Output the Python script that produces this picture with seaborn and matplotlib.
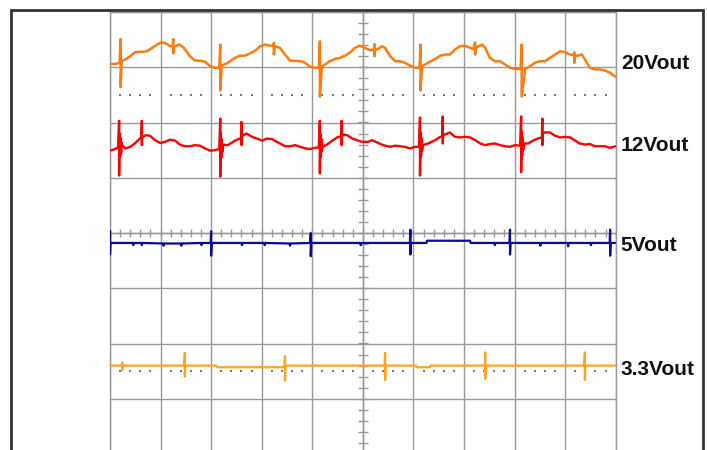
import numpy as np
import pandas as pd
import matplotlib
matplotlib.use("Agg")
import matplotlib.pyplot as plt
from matplotlib.patches import Rectangle
import seaborn as sns

# ---- data: time (divisions) , screen level (divisions) ----
ch_names = ["20Vout", "12Vout", "5Vout", "3.3Vout"]
ch_colors = ["#FF7B0F", "#FF0000", "#0A0A96", "#FFA31A"]

trace_20v = [
    (0.00, 3.06), (0.10, 3.06), (0.19, 3.08), (0.21, 3.51), (0.21, 2.64), (0.23, 3.11),
    (0.30, 3.14), (0.40, 3.20), (0.49, 3.27), (0.59, 3.28), (0.69, 3.28), (0.75, 3.30),
    (0.83, 3.35), (0.95, 3.42), (1.01, 3.45), (1.09, 3.44), (1.19, 3.38), (1.24, 3.39),
    (1.25, 3.51), (1.25, 3.25), (1.26, 3.38), (1.31, 3.39), (1.38, 3.41), (1.46, 3.35),
    (1.58, 3.20), (1.68, 3.12), (1.78, 3.12), (1.88, 3.10), (1.98, 3.02), (2.08, 2.99),
    (2.16, 2.99), (2.18, 3.41), (2.18, 2.58), (2.21, 3.03), (2.33, 3.08), (2.47, 3.17),
    (2.57, 3.21), (2.67, 3.21), (2.77, 3.25), (2.87, 3.30), (2.97, 3.38), (3.07, 3.41),
    (3.16, 3.39), (3.23, 3.39), (3.24, 3.44), (3.24, 3.23), (3.26, 3.38), (3.36, 3.35),
    (3.46, 3.23), (3.56, 3.12), (3.76, 3.11), (3.86, 3.08), (3.95, 3.01), (4.05, 2.99),
    (4.13, 2.99), (4.15, 3.47), (4.15, 2.47), (4.19, 3.01), (4.25, 3.05), (4.35, 3.11),
    (4.45, 3.15), (4.55, 3.17), (4.65, 3.21), (4.75, 3.27), (4.84, 3.35), (4.94, 3.39),
    (5.04, 3.35), (5.14, 3.31), (5.22, 3.32), (5.23, 3.42), (5.23, 3.20), (5.24, 3.32),
    (5.30, 3.33), (5.38, 3.38), (5.44, 3.35), (5.54, 3.20), (5.64, 3.11), (5.73, 3.11),
    (5.83, 3.08), (5.93, 3.03), (6.03, 2.99), (6.12, 2.99), (6.14, 3.41), (6.14, 2.58),
    (6.17, 3.02), (6.29, 3.08), (6.43, 3.15), (6.53, 3.21), (6.62, 3.23), (6.72, 3.23),
    (6.82, 3.32), (6.92, 3.38), (7.02, 3.39), (7.12, 3.35), (7.18, 3.33), (7.22, 3.45),
    (7.22, 3.23), (7.23, 3.34), (7.28, 3.38), (7.36, 3.41), (7.42, 3.35), (7.51, 3.17),
    (7.61, 3.11), (7.71, 3.11), (7.81, 3.05), (7.91, 2.99), (8.01, 2.97), (8.12, 2.97),
    (8.14, 3.41), (8.14, 2.47), (8.21, 2.97), (8.31, 3.02), (8.40, 3.08), (8.50, 3.11),
    (8.60, 3.11), (8.70, 3.17), (8.80, 3.23), (8.90, 3.29), (9.00, 3.27), (9.10, 3.23),
    (9.17, 3.22), (9.18, 3.27), (9.18, 3.08), (9.19, 3.21), (9.25, 3.21), (9.33, 3.23),
    (9.39, 3.14), (9.49, 2.99), (9.59, 2.96), (9.69, 2.96), (9.79, 2.94), (9.89, 2.90),
    (9.99, 2.83),
]

trace_12v = [
    (0.00, 1.49), (0.10, 1.52), (0.16, 1.55), (0.18, 2.03), (0.18, 1.04), (0.19, 1.80),
    (0.20, 1.38), (0.21, 1.72), (0.22, 1.44), (0.23, 1.64), (0.24, 1.59), (0.30, 1.53),
    (0.40, 1.56), (0.49, 1.62), (0.59, 1.71), (0.62, 1.72), (0.63, 2.03), (0.63, 1.59),
    (0.64, 1.76), (0.65, 1.74), (0.71, 1.77), (0.79, 1.76), (0.89, 1.68), (0.99, 1.63),
    (1.09, 1.65), (1.19, 1.69), (1.29, 1.67), (1.38, 1.60), (1.48, 1.57), (1.58, 1.57),
    (1.68, 1.59), (1.78, 1.58), (1.88, 1.53), (1.98, 1.49), (2.08, 1.50), (2.16, 1.52),
    (2.18, 2.07), (2.18, 1.02), (2.19, 1.82), (2.20, 1.36), (2.21, 1.70), (2.22, 1.46),
    (2.23, 1.60), (2.33, 1.59), (2.47, 1.67), (2.57, 1.71), (2.59, 1.72), (2.60, 2.01),
    (2.60, 1.59), (2.61, 1.76), (2.62, 1.76), (2.70, 1.80), (2.81, 1.74), (2.93, 1.70),
    (3.01, 1.67), (3.10, 1.71), (3.20, 1.70), (3.26, 1.67), (3.36, 1.62), (3.46, 1.57),
    (3.56, 1.57), (3.66, 1.59), (3.76, 1.56), (3.86, 1.53), (3.95, 1.52), (4.05, 1.54),
    (4.13, 1.55), (4.15, 2.03), (4.15, 1.08), (4.16, 1.80), (4.17, 1.38), (4.18, 1.70),
    (4.19, 1.48), (4.20, 1.56), (4.29, 1.60), (4.41, 1.68), (4.51, 1.74), (4.57, 1.74),
    (4.58, 2.03), (4.58, 1.59), (4.59, 1.77), (4.61, 1.78), (4.69, 1.77), (4.79, 1.71),
    (4.88, 1.68), (4.98, 1.65), (5.10, 1.65), (5.18, 1.68), (5.28, 1.64), (5.40, 1.59),
    (5.54, 1.56), (5.64, 1.58), (5.73, 1.57), (5.83, 1.56), (5.93, 1.53), (6.03, 1.56),
    (6.11, 1.56), (6.13, 2.09), (6.13, 1.04), (6.14, 1.82), (6.15, 1.38), (6.16, 1.72),
    (6.17, 1.48), (6.19, 1.59), (6.29, 1.62), (6.43, 1.68), (6.53, 1.74), (6.57, 1.75),
    (6.58, 2.11), (6.58, 1.62), (6.59, 1.78), (6.62, 1.78), (6.72, 1.82), (6.82, 1.74),
    (6.92, 1.73), (7.02, 1.74), (7.12, 1.73), (7.22, 1.68), (7.32, 1.62), (7.42, 1.59),
    (7.51, 1.61), (7.61, 1.62), (7.71, 1.59), (7.81, 1.57), (7.91, 1.56), (8.01, 1.59),
    (8.11, 1.58), (8.13, 2.11), (8.13, 1.10), (8.14, 1.84), (8.15, 1.40), (8.16, 1.74),
    (8.17, 1.50), (8.19, 1.62), (8.27, 1.62), (8.36, 1.67), (8.46, 1.71), (8.54, 1.73),
    (8.55, 2.07), (8.55, 1.59), (8.56, 1.80), (8.60, 1.82), (8.70, 1.82), (8.80, 1.76),
    (8.90, 1.73), (9.00, 1.74), (9.10, 1.73), (9.20, 1.67), (9.29, 1.62), (9.39, 1.60),
    (9.49, 1.61), (9.59, 1.57), (9.69, 1.57), (9.79, 1.57), (9.89, 1.54), (9.99, 1.57),
]

trace_5v = [
    (0.00, -0.18), (0.00, 0.03), (0.00, -0.39), (0.01, -0.18), (0.45, -0.18), (0.46, -0.22),
    (0.47, -0.18), (0.62, -0.18), (0.63, -0.22), (0.64, -0.18), (1.05, -0.19), (1.06, -0.23),
    (1.07, -0.19), (1.40, -0.19), (1.41, -0.23), (1.42, -0.19), (1.80, -0.18), (1.81, -0.22),
    (1.82, -0.18), (1.99, -0.18), (2.00, 0.03), (2.00, -0.41), (2.01, -0.18), (2.60, -0.18),
    (2.61, -0.22), (2.62, -0.18), (3.05, -0.18), (3.06, -0.22), (3.07, -0.18), (3.55, -0.19),
    (3.56, -0.23), (3.57, -0.19), (3.96, -0.18), (3.97, 0.00), (3.97, -0.42), (3.98, -0.18),
    (4.95, -0.18), (4.96, -0.22), (4.97, -0.18), (5.93, -0.18), (5.94, 0.06), (5.94, -0.39),
    (5.95, -0.18), (6.26, -0.18), (6.27, -0.14), (7.12, -0.14), (7.13, -0.18), (7.60, -0.18),
    (7.61, -0.22), (7.62, -0.18), (7.90, -0.18), (7.91, 0.06), (7.91, -0.39), (7.92, -0.18),
    (8.50, -0.18), (8.51, -0.23), (8.52, -0.18), (9.05, -0.18), (9.06, -0.24), (9.07, -0.18),
    (9.50, -0.18), (9.51, -0.22), (9.52, -0.18), (9.88, -0.18), (9.89, 0.06), (9.89, -0.41),
    (9.90, -0.18), (9.99, -0.18),
]

trace_3v3 = [
    (0.00, -2.40), (0.23, -2.40), (0.24, -2.34), (0.24, -2.49), (0.25, -2.40), (1.47, -2.40),
    (1.48, -2.17), (1.48, -2.60), (1.49, -2.40), (2.10, -2.40), (2.12, -2.43), (3.42, -2.43),
    (3.45, -2.41), (3.46, -2.23), (3.46, -2.67), (3.47, -2.40), (5.43, -2.40), (5.44, -2.17),
    (5.44, -2.66), (5.45, -2.40), (6.05, -2.40), (6.06, -2.43), (6.33, -2.43), (6.34, -2.40),
    (7.41, -2.40), (7.42, -2.16), (7.42, -2.64), (7.43, -2.40), (9.38, -2.40), (9.39, -2.16),
    (9.39, -2.66), (9.40, -2.40), (9.99, -2.40),
]

label_levels = [2.96, 1.48, -0.33, -2.57]   # baseline of each channel label
ref_levels = [2.5, -2.5]                    # dotted reference rows

# ---- figure ----
sns.set_style("white")
fig = plt.figure(figsize=(7.07, 4.5), dpi=100)
fig.patch.set_facecolor("white")
W, H = 707.0, 450.0
ax = fig.add_axes([110 / W, 1 - 454 / H, 505.7 / W, 442 / H])

grid_c = "#999999"
ax.set_xlim(0, 10)
ax.set_ylim(-4, 4)
ax.set_xticks(range(0, 11))
ax.set_yticks(range(-4, 5))
ax.grid(True, color=grid_c, lw=1.0, zorder=0)
ax.set_axisbelow(True)
ax.tick_params(length=0, labelbottom=False, labelleft=False)
for s in ax.spines.values():
    s.set_color(grid_c)
    s.set_linewidth(1.0)

# centre graticule axes with minor ticks
ax.axvline(5, color=grid_c, lw=1.0, zorder=1)
ax.axhline(0, color=grid_c, lw=1.0, zorder=1)
minor_y = np.arange(-4, 4.001, 0.2)
minor_x = np.arange(0, 10.001, 0.2)
ax.hlines(minor_y, 4.9, 5.1, color=grid_c, lw=1.0, zorder=1)
ax.vlines(minor_x, -0.075, 0.075, color=grid_c, lw=1.0, zorder=1)
dot_x = [x for x in minor_x if abs(x - round(x)) > 1e-6]
for lv in ref_levels:
    ax.scatter(dot_x, [lv] * len(dot_x), s=0.8, color="#777777", marker="s",
               linewidths=0, zorder=1)

traces = [trace_20v, trace_12v, trace_5v, trace_3v3]
widths = [1.8, 1.7, 1.6, 1.6]
for pts, col, lw in zip(traces, ch_colors, widths):
    df = pd.DataFrame(pts, columns=["t", "v"])
    sns.lineplot(data=df, x="t", y="v", estimator=None, sort=False, color=col,
                 lw=lw, ax=ax, zorder=3, legend=False)
ax.set_xlabel("")
ax.set_ylabel("")

for name, lv in zip(ch_names, label_levels):
    ax.text(10.1, lv, name, ha="left", va="baseline", fontsize=15,
            fontweight="bold", family=["Liberation Sans", "DejaVu Sans"],
            color="#111111", clip_on=False)

# outer frame
fig.add_artist(Rectangle((11.3 / W, -0.05), (702.8 - 11.3) / W, (1 - 9.7 / H) + 0.05,
                         transform=fig.transFigure, fill=False, ec="#333333", lw=2.0))

fig.savefig("out.png", dpi=100, facecolor="white")
